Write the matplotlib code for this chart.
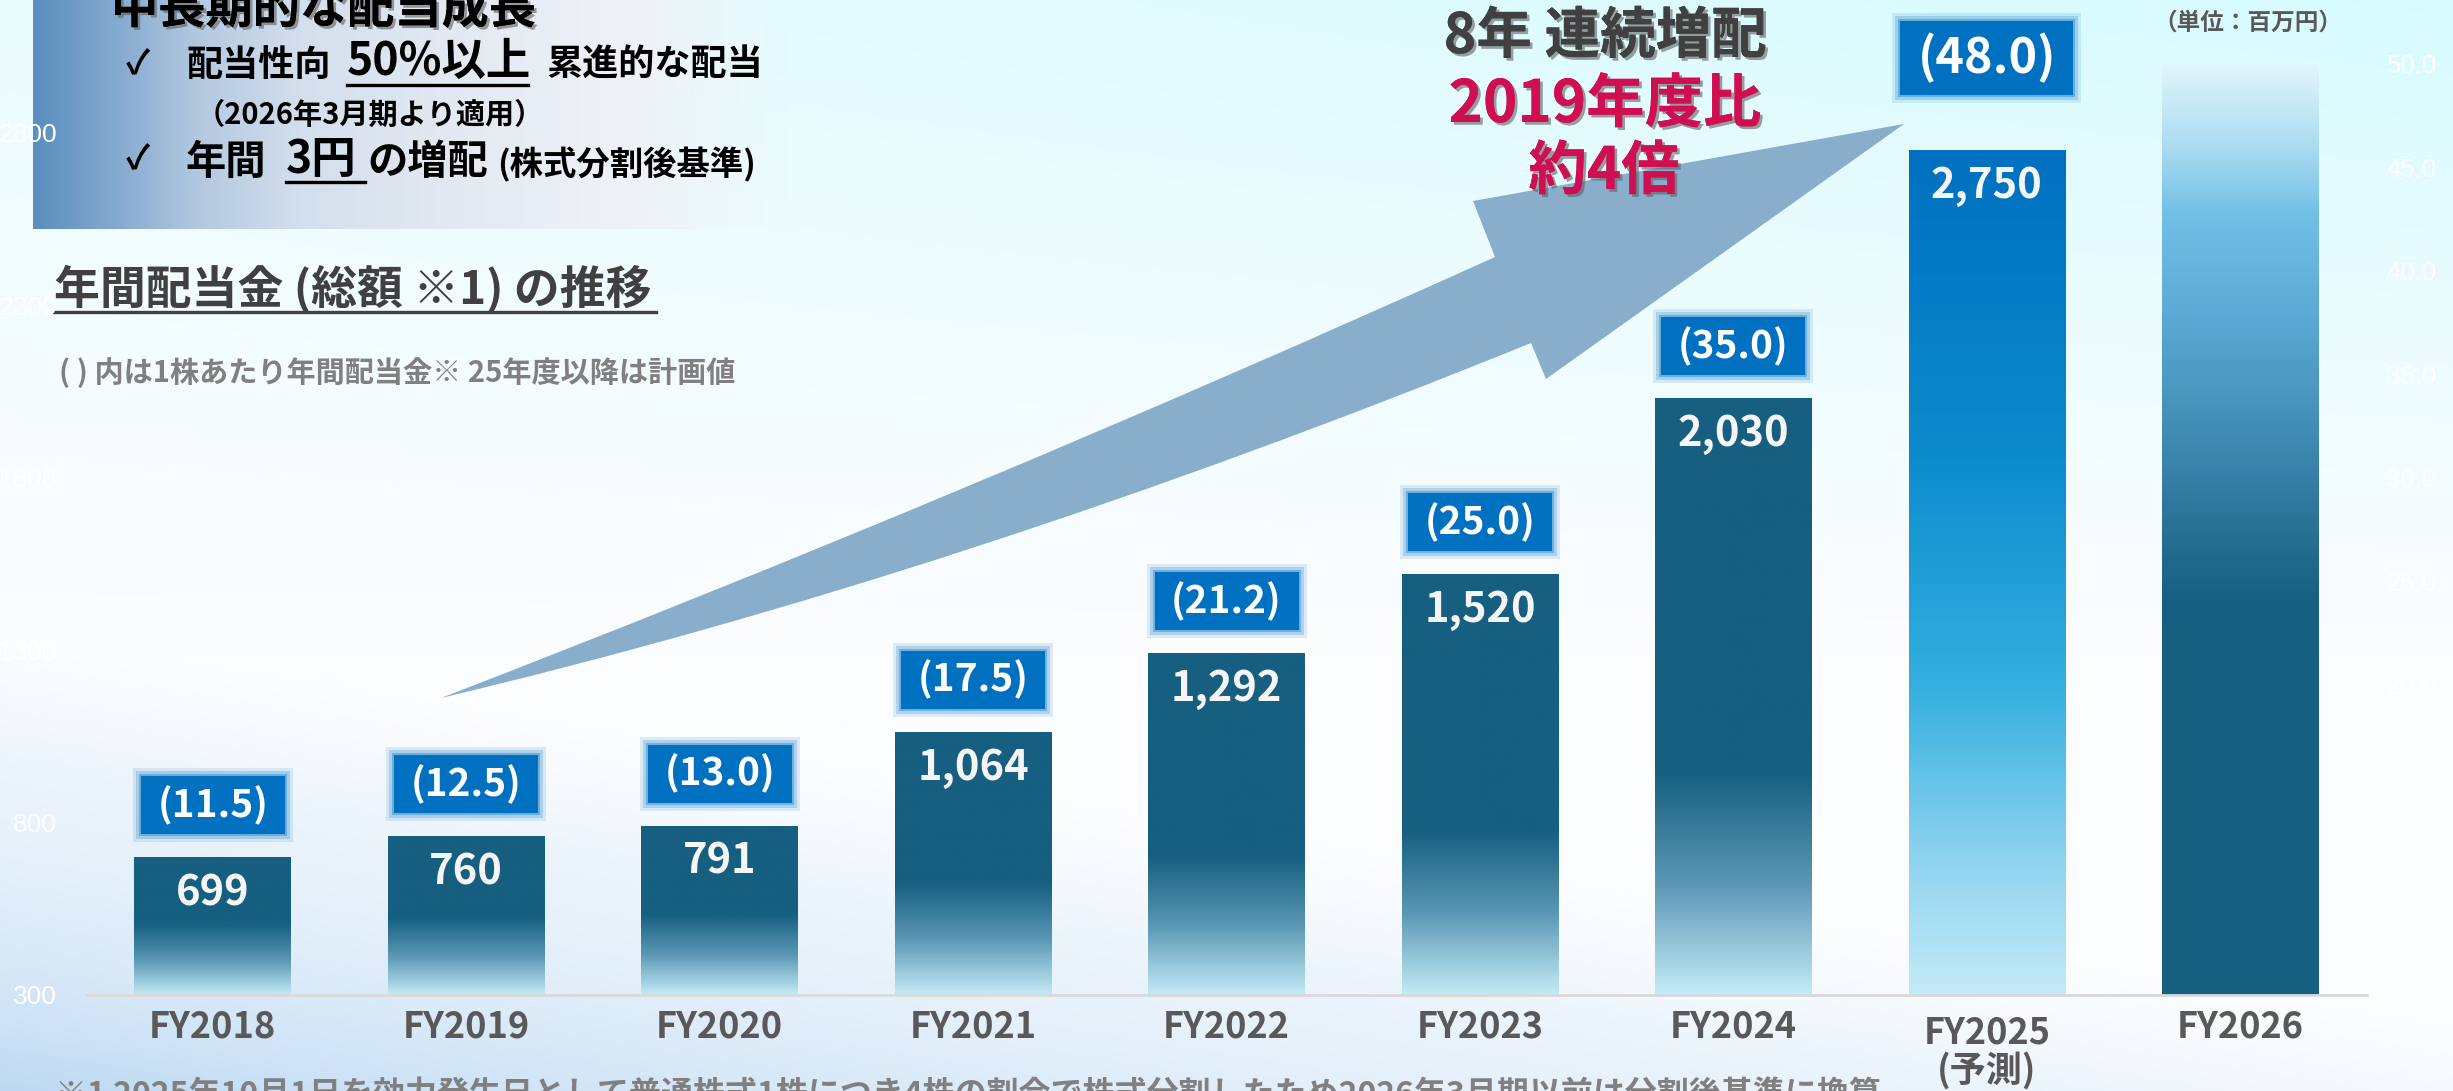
import numpy as np
import matplotlib
matplotlib.use("Agg")
import matplotlib.pyplot as plt
import matplotlib.patheffects as pe
import matplotlib.transforms as mtransforms
from matplotlib.colors import to_rgb
from matplotlib.path import Path
from matplotlib.patches import PathPatch, Rectangle
from matplotlib.lines import Line2D

plt.rcParams['font.family'] = ['Noto Sans CJK JP', 'DejaVu Sans']

# ---- data ----
years = ['FY2018', 'FY2019', 'FY2020', 'FY2021', 'FY2022', 'FY2023', 'FY2024', 'FY2025\n(予測)', 'FY2026']
total_div = [699, 760, 791, 1064, 1292, 1520, 2030, 2750, 3000]   # 百万円 (FY2026 unlabeled)
dps = [11.5, 12.5, 13.0, 17.5, 21.2, 25.0, 35.0, 48.0]              # 1株あたり (円)
left_ticks = [300, 800, 1300, 1800, 2300, 2800]
right_ticks = [20, 25, 30, 35, 40, 45, 50]

W, H = 2453, 1091
fig = plt.figure(figsize=(W / 100, H / 100), dpi=100)

# ---- background layer (pixel coords, y down) ----
bg = fig.add_axes([0, 0, 1, 1], zorder=0)
bg.set_xlim(0, W)
bg.set_ylim(H, 0)
bg.axis('off')

yy, xx = np.mgrid[0:H:3, 0:W:3]
xn, yn = xx / W, yy / H
base = np.array(to_rgb('#fbfdff'))
cyan = np.array(to_rgb('#d6fbfe'))
blue = np.array(to_rgb('#a8cdee'))
wc = np.clip(1 - yn / 0.6, 0, 1) ** 1.2 * (0.45 + 0.55 * xn)
u = xn * 0.9 + (1 - yn) * 2.5
wb = 0.75 * np.exp(-1.9 * u) * np.clip((1.05 - u) / 0.3, 0, 1)
img = base[None, None, :] * np.ones(xn.shape + (3,))
img = img * (1 - wc[..., None]) + cyan * wc[..., None]
img = img * (1 - wb[..., None]) + blue * wb[..., None]
bg.imshow(img, extent=(0, W, H, 0), aspect='auto', zorder=0)

# top-left header box
bx = np.linspace(33, 790, 400)
pos = [33, 120, 200, 300, 450, 600, 790]
cols = np.array([to_rgb(c) for c in ['#5a8ec0', '#87abd0', '#b4c9e0', '#d3dfec', '#e3e9f2', '#ecf1f7', '#f2f7f9']])
box = np.zeros((1, len(bx), 4))
for k in range(3):
    box[0, :, k] = np.interp(bx, pos, cols[:, k])
box[0, :, 3] = np.interp(bx, [33, 640, 790], [1, 1, 0])
bg.imshow(box, extent=(33, 790, 229, 0), aspect='auto', zorder=1)

# big arrow
S, P, A = (441, 698), (968, 495), (1495, 257)
B, T, C, D = (1473, 201), (1904, 124), (1546, 379), (1531, 343)
Q = (960, 575)
verts = [S, P, A, B, T, C, D, Q, S, S]
codes = [Path.MOVETO, Path.CURVE3, Path.CURVE3, Path.LINETO, Path.LINETO,
         Path.LINETO, Path.LINETO, Path.CURVE3, Path.CURVE3, Path.CLOSEPOLY]
bg.add_patch(PathPatch(Path(verts, codes), facecolor='#88aecc', edgecolor='none', zorder=2))

shadow = [pe.withSimplePatchShadow(offset=(2, -2), shadow_rgbFace='#606060', alpha=0.6), pe.Normal()]

def t(x, y, s, size, color='black', ha='left', va='center', effects=None):
    return bg.text(x, y, s, fontsize=size, color=color, ha=ha, va=va, fontweight='bold',
                   zorder=5, path_effects=effects)

t(111, 9, '中長期的な配当成長', 34, effects=shadow)
t(138, 65, '✓', 24, ha='center')
t(186, 65, '配当性向', 26)
t(347, 62, '50%以上', 32)
t(546, 65, '累進的な配当', 26)
t(196, 115, '（2026年3月期より適用）', 21)
t(138, 160, '✓', 24, ha='center')
t(186, 162, '年間', 29)
t(286, 160, '3円', 32)
t(367, 162, 'の増配', 29)
t(497, 165, '(株式分割後基準)', 24)
t(54, 290, '年間配当金 (総額 ※1) の推移', 33, color='#404040')
t(59, 373, '( ) 内は1株あたり年間配当金※ 25年度以降は計画値', 21, color='#808080')
t(1605, 37, '8年 連続増配', 40, color='#404040', ha='center', effects=shadow)
t(1605, 105, '2019年度比', 42, color='#cf0f52', ha='center', effects=shadow)
t(1604, 172, '約4倍', 42, color='#cf0f52', ha='center', effects=shadow)
t(2248, 23, '（単位：百万円）', 17, color='#595959', ha='center')
t(55, 1080, '※1 2025年10月1日を効力発生日として普通株式1株につき4株の割合で株式分割したため2026年3月期以前は分割後基準に換算',
  23, color='#808080', va='top')

for x0, x1, y, c in [(347, 528, 85, 'black'), (286, 365, 182, 'black'), (54, 656, 312, '#404040')]:
    bg.add_line(Line2D([x0, x1], [y, y], color=c, lw=2.4, zorder=5))

# ---- chart ----
ax = fig.add_axes([86 / W, 96 / H, (2367 - 86) / W, (995 - 64) / H], zorder=2)
ax.patch.set_alpha(0)
x = np.arange(len(years))
bars = ax.bar(x, [v - 300 for v in total_div], bottom=300, width=0.618,
              facecolor='none', edgecolor='none')

dark, mid, light = '#165f80', '#5a97b4', '#c4ebf7'
px_per_unit = (995 - 64) / 2700

def gradient(stops):
    fr = np.linspace(0, 1, 300)
    p = [s for s, _ in stops]
    cc = np.array([to_rgb(c) for _, c in stops])
    return np.stack([np.interp(fr, p, cc[:, k]) for k in range(3)], axis=-1)[:, None, :]

for i, (bar, v) in enumerate(zip(bars, total_div)):
    h = v - 300
    if i == 7:
        stops = [(0, '#0070c0'), (0.35, '#0b8acc'), (0.64, '#35b0e0'), (0.84, '#8fd3ef'), (1, '#c4eaf7')]
    elif i == 8:
        stops = [(0, '#e0f6fa'), (0.08, '#b0def2'), (0.16, '#72c0e6'), (0.27, '#5aaad5'),
                 (0.38, '#4590b8'), (0.49, '#2c7398'), (0.58, dark), (1, dark)]
    else:
        fade = (0.33 * h * px_per_unit + 25) / (h * px_per_unit)
        s0 = 1 - fade
        stops = [(0, dark), (s0, dark), (s0 + 0.5 * fade, mid), (1, light)]
    x0 = bar.get_x()
    im = ax.imshow(gradient(stops), extent=(x0, x0 + bar.get_width(), 300, v),
                   aspect='auto', zorder=2)
    im.set_clip_path(bar)

ax.set_xlim(-0.5, len(years) - 0.5)
ax.set_ylim(300, 3000)

# labels: totals inside bars, DPS in blue boxes above
for i, d in enumerate(dps):
    v = total_div[i]
    anchor = mtransforms.ScaledTranslation(i, v, ax.transData)
    tr = mtransforms.Affine2D() + anchor
    ax.text(0, -36, f'{v:,}', transform=tr, ha='center', va='center', color='#f5f5f5',
            fontsize=30, fontweight='bold', zorder=4)
    if i == 7:
        bw, bh, gap, fs = 173, 74, 92, 35
    else:
        bw, bh, gap, fs = 144, 58, 52, 28
    for g, a in [(8, 0.12), (5, 0.2), (2, 0.35)]:
        ax.add_patch(Rectangle((-bw / 2 - g, gap - bh / 2 - g), bw + 2 * g, bh + 2 * g,
                               transform=tr, facecolor='#0070c0', edgecolor='none', alpha=a,
                               zorder=3, clip_on=False))
    ax.add_patch(Rectangle((-bw / 2, gap - bh / 2), bw, bh, transform=tr,
                           facecolor='#0070c0', edgecolor='none', zorder=3, clip_on=False))
    ax.text(0, gap, f'({d:.1f})', transform=tr, ha='center', va='center', color='white',
            fontsize=fs, fontweight='bold', zorder=4)

for sp in ['top', 'left', 'right']:
    ax.spines[sp].set_visible(False)
ax.spines['bottom'].set_color('#d9d9d9')
ax.spines['bottom'].set_linewidth(2)
ax.set_xticks(x)
ax.set_xticklabels(years, fontsize=26, fontweight='bold', color='#595959',
                   linespacing=1.0, va='top')
ax.tick_params(axis='x', length=0, pad=10)
ax.xaxis.get_major_ticks()[7].set_pad(14)
ax.set_yticks(left_ticks)
ax.tick_params(axis='y', length=0, labelsize=19, labelcolor='white', pad=21)
for lab in ax.get_yticklabels():
    lab.set_family('Liberation Sans')

ax2 = ax.twinx()
ax2.patch.set_alpha(0)
ax2.set_ylim(5, 50)
ax2.set_yticks(right_ticks)
ax2.set_yticklabels([f'{r:.1f}' for r in right_ticks])
ax2.tick_params(axis='y', length=0, labelsize=18.5, labelcolor='white', pad=14)
for lab in ax2.get_yticklabels():
    lab.set_family('Liberation Sans')
for sp in ax2.spines.values():
    sp.set_visible(False)

fig.savefig('out.png', dpi=100)
